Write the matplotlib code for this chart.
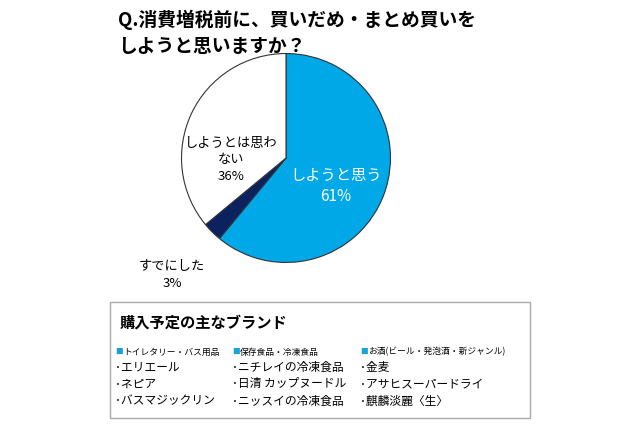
import matplotlib.pyplot as plt
from matplotlib.patches import Rectangle

plt.rcParams['font.family'] = 'Noto Sans CJK JP'

labels = ['しようと思う', 'すでにした', 'しようとは思わ\nない']
values = [61, 3, 36]
colors = ['#00a8e8', '#0c2260', '#ffffff']

headers = ['トイレタリー・バス用品', '保存食品・冷凍食品', 'お酒(ビール・発泡酒・新ジャンル)']
brands = [['エリエール', 'ネピア', 'バスマジックリン'],
          ['ニチレイの冷凍食品', '日清 カップヌードル', 'ニッスイの冷凍食品'],
          ['金麦', 'アサヒスーパードライ', '麒麟淡麗〈生〉']]

W, H = 640, 426
fig = plt.figure(figsize=(6.4, 4.26), dpi=100)
fig.patch.set_facecolor('white')

# pie axes in pixel coords: center (286,158), radius 105
cx, cy, r = 286, 158, 105
ax = fig.add_axes([(cx - r) / W, 1 - (cy + r) / H, 2 * r / W, 2 * r / H])
ax.pie(values, colors=colors, startangle=90, counterclock=False,
       wedgeprops=dict(edgecolor='#333333', linewidth=0.8))
ax.set_xlim(-1.005, 1.005)
ax.set_ylim(-1.005, 1.005)
ax.set_aspect('auto')

def t(x, y, s, **kw):
    fig.text(x / W, 1 - y / H, s, **kw)

t(118, 20, 'Q.消費増税前に、買いだめ・まとめ買いを', fontsize=13.5, fontweight='bold', va='center')
t(118, 46, 'しようと思いますか？', fontsize=13.5, fontweight='bold', va='center')
t(336, 186, f'{labels[0]}\n{values[0]}%', fontsize=11, color='white', ha='center', va='center', linespacing=1.3)
t(231, 160, f'{labels[2]}\n{values[2]}%', fontsize=9.5, ha='center', va='center', linespacing=1.3)
t(172, 275, f'{labels[1]}\n{values[1]}%', fontsize=9.5, ha='center', va='center', linespacing=1.4)

# brand box
fig.patches.append(Rectangle((110 / W, 1 - 418 / H), 420 / W, 116 / H,
                             transform=fig.transFigure, fill=False,
                             edgecolor='#aaaaaa', linewidth=1))
t(120, 323, '購入予定の主なブランド', fontsize=11, fontweight='bold', va='center')
colx = [115, 232, 360]
for x, h, items in zip(colx, headers, brands):
    t(x, 352, '■', fontsize=5.5, color='#1ba0dc', va='center')
    t(x + 8, 352, h, fontsize=6.3, va='center')
    for i, b in enumerate(items):
        t(x, 367 + i * 17, '･' + b, fontsize=8.5, va='center')

fig.savefig('out.png', dpi=100)
